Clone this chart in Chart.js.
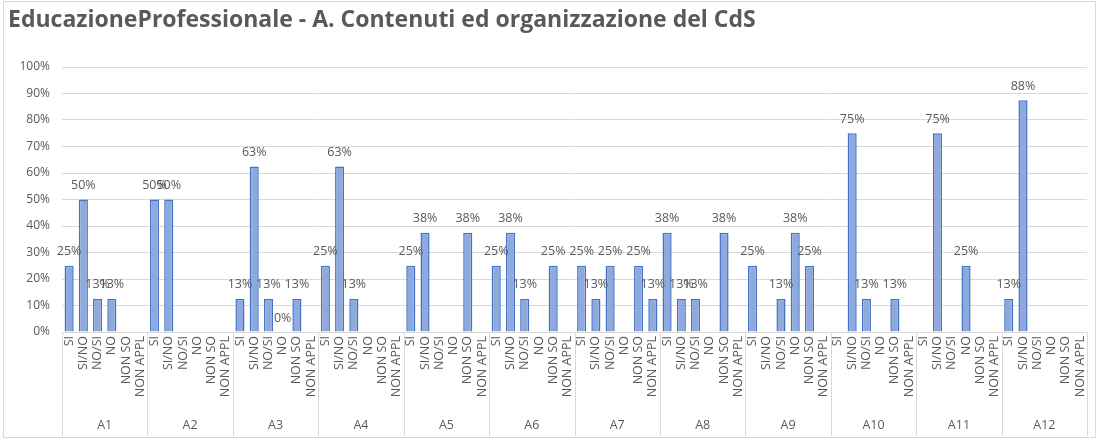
<!DOCTYPE html>
<html>
<head>
<meta charset="utf-8">
<script src="https://cdn.jsdelivr.net/npm/chart.js@4.4.0/dist/chart.umd.min.js"></script>
<style>
    html, body { margin: 0; padding: 0; background: #ffffff; }
    #wrap { width: 1099px; height: 441px; }
</style>
</head>
<body>
<div id="wrap"><canvas id="chart" width="1099" height="441"></canvas></div>
<script>
// answer categories repeated inside every question group
const answers = ['SI', 'SI/NO', 'NO/SI', 'NO', 'NON SO', 'NON APPL'];
const questions = ['A1', 'A2', 'A3', 'A4', 'A5', 'A6', 'A7', 'A8', 'A9', 'A10', 'A11', 'A12'];

// percentages per question, in the order of answers (null = no bar)
const a1 = [25, 50, 12.5, 12.5, null, null];
const a2 = [50, 50, null, null, null, null];
const a3 = [12.5, 62.5, 12.5, 0, 12.5, null];
const a4 = [25, 62.5, 12.5, null, null, null];
const a5 = [25, 37.5, null, null, 37.5, null];
const a6 = [25, 37.5, 12.5, null, 25, null];
const a7 = [25, 12.5, 25, null, 25, 12.5];
const a8 = [37.5, 12.5, 12.5, null, 37.5, null];
const a9 = [25, null, 12.5, 37.5, 25, null];
const a10 = [null, 75, 12.5, null, 12.5, null];
const a11 = [null, 75, null, 25, null, null];
const a12 = [12.5, 87.5, null, null, null, null];

const yTicks = [0, 10, 20, 30, 40, 50, 60, 70, 80, 90, 100];

const groupValues = [a1, a2, a3, a4, a5, a6, a7, a8, a9, a10, a11, a12];
const labels = [];
const values = [];
groupValues.forEach(g => {
    g.forEach((v, i) => {
        labels.push(answers[i]);
        values.push(v);
    });
});

const FONT = "'Open Sans', sans-serif";
const TEXT = '#595959';
const LINE = '#d9d9d9';

// value labels above bars, question groups under the axis, outer frame
const decorations = {
    id: 'decorations',
    afterDatasetsDraw(chart) {
        const ctx = chart.ctx;
        const meta = chart.getDatasetMeta(0);
        ctx.save();
        ctx.font = '12.5px ' + FONT;
        ctx.fillStyle = TEXT;
        ctx.textAlign = 'center';
        ctx.textBaseline = 'middle';
        meta.data.forEach((bar, i) => {
            const v = values[i];
            if (v === null) return;
            ctx.fillText(Math.round(v) + '%', bar.x, bar.y - 14);
        });
        ctx.restore();
    },
    afterDraw(chart) {
        const ctx = chart.ctx;
        const x = chart.scales.x;
        const area = chart.chartArea;
        const slot = (x.getPixelForValue(1) - x.getPixelForValue(0));
        ctx.save();
        ctx.strokeStyle = LINE;
        ctx.lineWidth = 1;
        for (let k = 0; k <= questions.length; k++) {
            const px = Math.round(x.getPixelForValue(k * answers.length) - slot / 2) + 0.5;
            ctx.beginPath();
            ctx.moveTo(px, area.bottom);
            ctx.lineTo(px, 436);
            ctx.stroke();
        }
        ctx.font = '12.5px ' + FONT;
        ctx.fillStyle = TEXT;
        ctx.textAlign = 'center';
        ctx.textBaseline = 'middle';
        questions.forEach((q, k) => {
            const cx = (x.getPixelForValue(k * answers.length) + x.getPixelForValue(k * answers.length + answers.length - 1)) / 2;
            ctx.fillText(q, cx, 425);
        });
        ctx.strokeRect(3.5, 1.5, 1092, 436);
        ctx.restore();
    }
};

new Chart(document.getElementById('chart'), {
    type: 'bar',
    data: {
        labels: labels,
        datasets: [{
            data: values,
            backgroundColor: '#8eaadc',
            borderColor: '#4472c4',
            borderWidth: 1.5,
            barPercentage: 0.64,
            categoryPercentage: 1
        }]
    },
    options: {
        responsive: false,
        animation: false,
        devicePixelRatio: 1,
        layout: { padding: { left: 8, right: 7, top: 0, bottom: 0 } },
        plugins: {
            legend: { display: false },
            tooltip: { enabled: false },
            title: {
                display: true,
                text: 'EducazioneProfessionale - A. Contenuti ed organizzazione del CdS',
                align: 'start',
                color: TEXT,
                font: { family: FONT, size: 23, weight: 'bold' },
                padding: { top: 7, bottom: 32.4 }
            }
        },
        scales: {
            x: {
                grid: { display: false, drawTicks: false },
                border: { display: true, color: LINE },
                afterFit: s => { s.height = 109; },
                ticks: {
                    autoSkip: false,
                    maxRotation: 90,
                    minRotation: 90,
                    padding: 4,
                    color: TEXT,
                    font: { family: FONT, size: 12.5 }
                }
            },
            y: {
                min: 0,
                max: 100,
                afterFit: s => { s.width = 54; },
                afterBuildTicks: s => { s.ticks = yTicks.map(v => ({ value: v })); },
                grid: { color: LINE, drawTicks: false },
                border: { display: false },
                ticks: {
                    padding: 12,
                    color: TEXT,
                    font: { family: FONT, size: 12 },
                    callback: v => v + '%'
                }
            }
        }
    },
    plugins: [decorations]
});
</script>
</body>
</html>
